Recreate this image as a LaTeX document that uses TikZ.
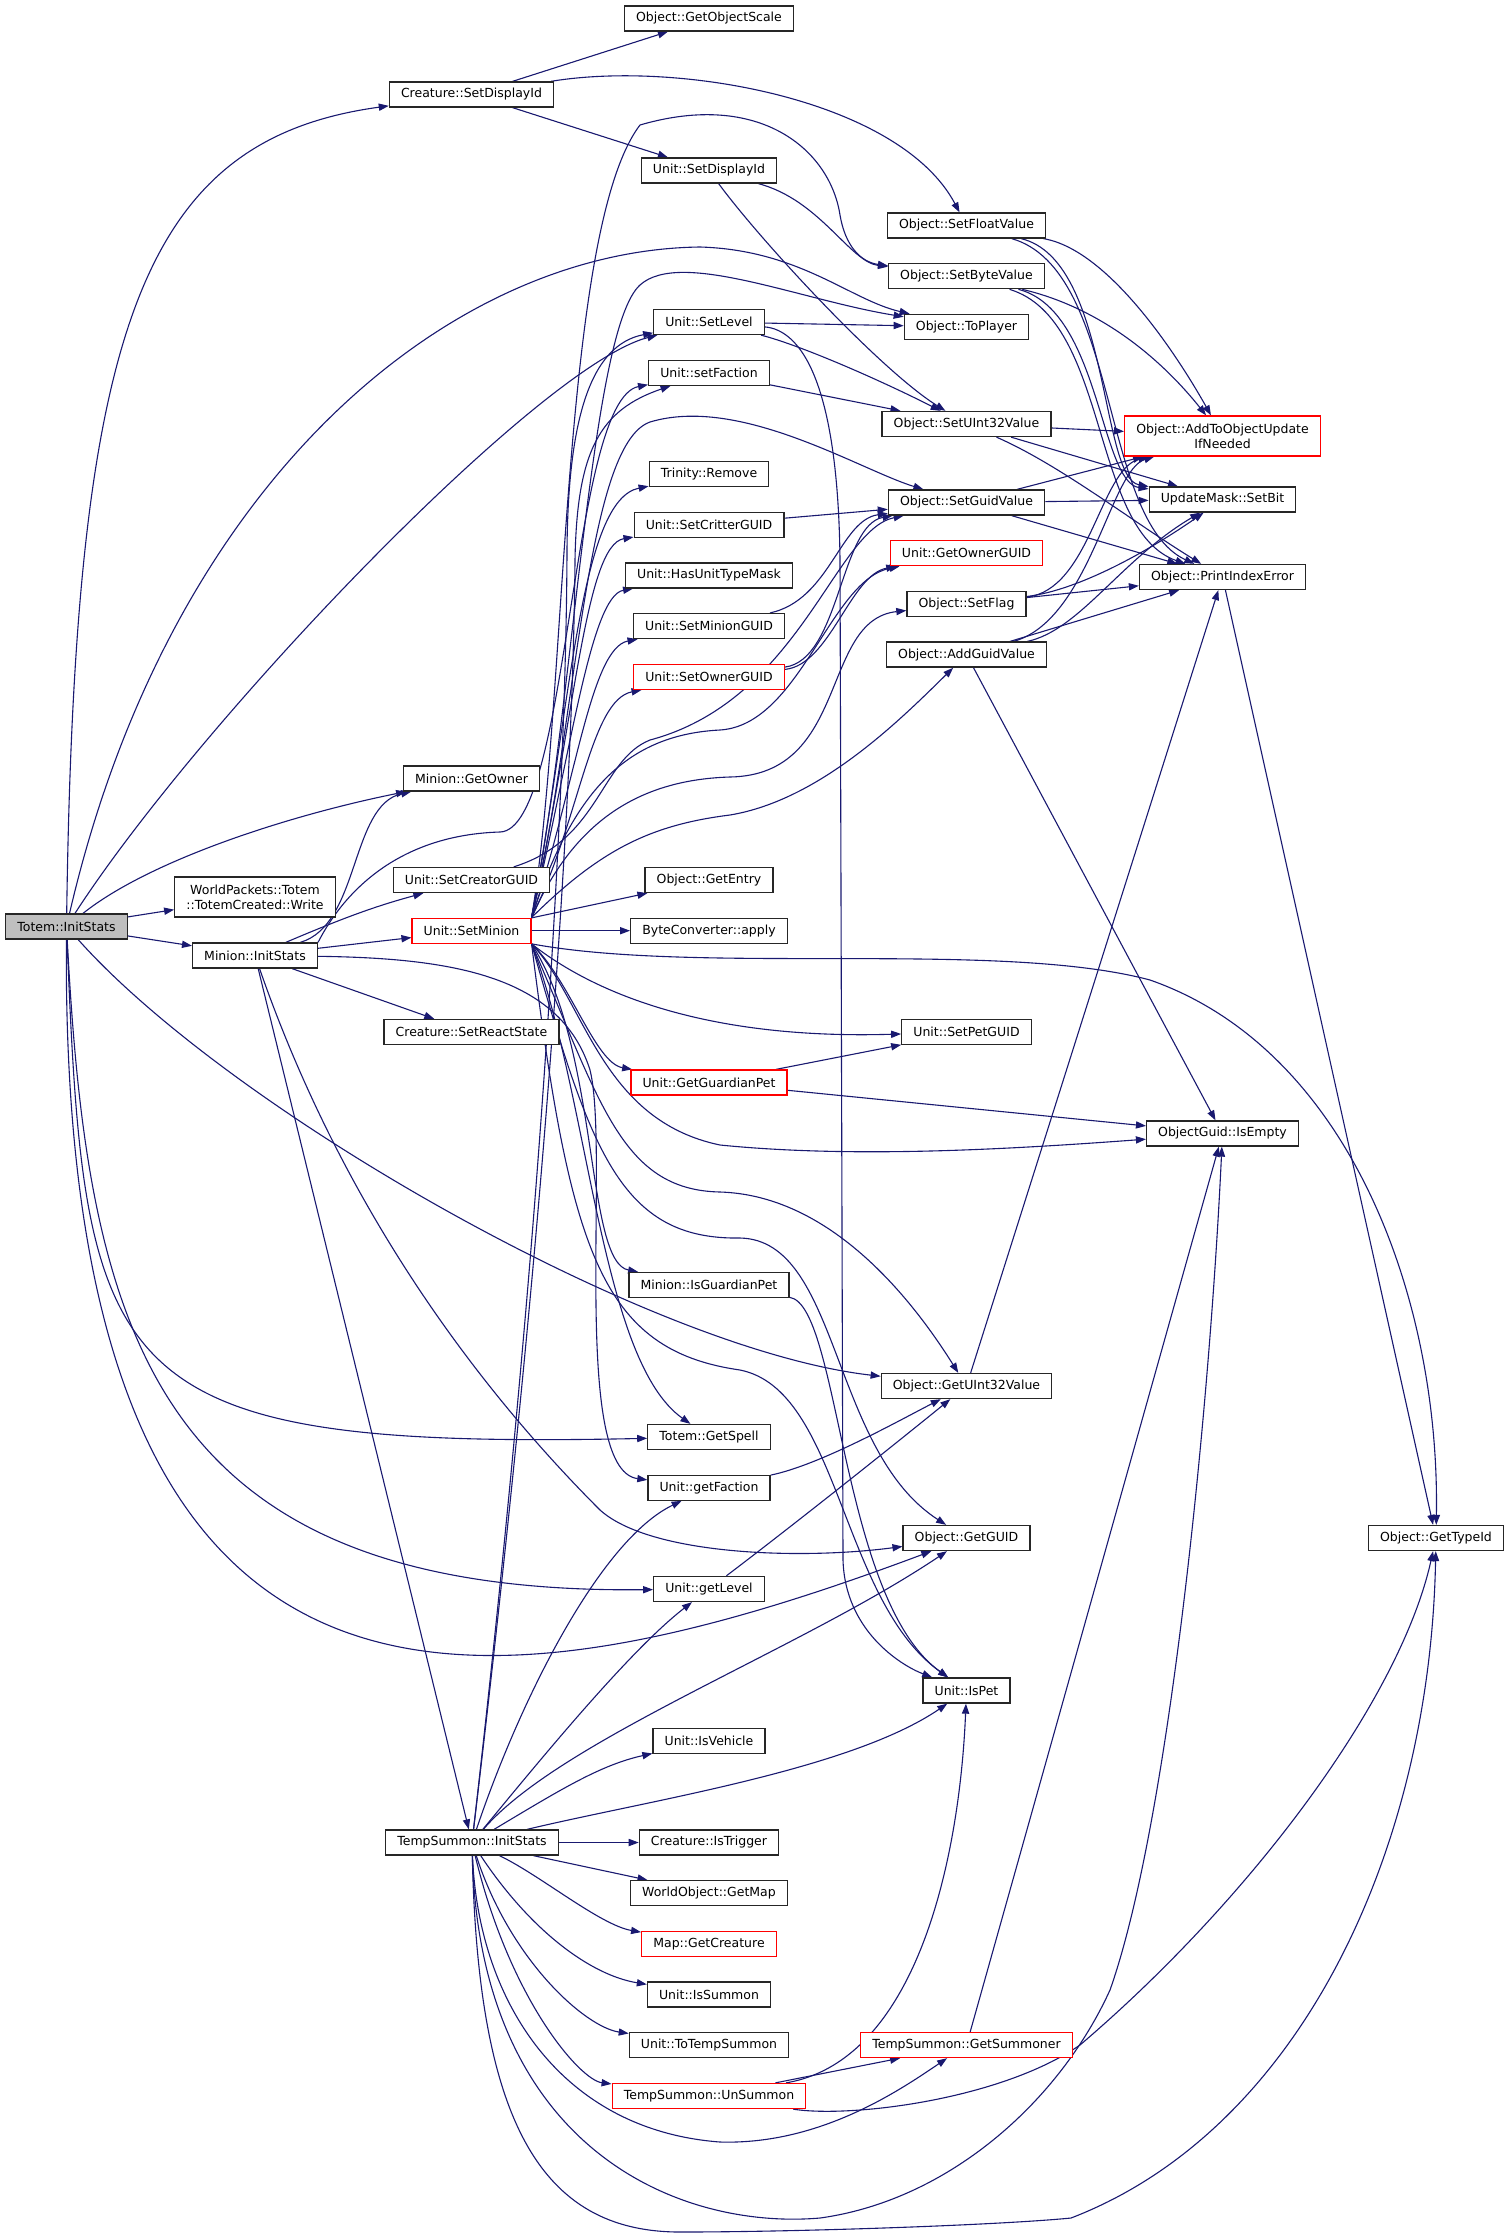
\documentclass[tikz,border=0pt]{standalone}
\usepackage{fontspec}
\setmainfont{DejaVu Sans}
\usetikzlibrary{positioning,shapes,arrows.meta}
\definecolor{edgeblue}{HTML}{191970}
\definecolor{rootgrey}{HTML}{BFBFBF}
\pgfdeclarelayer{background}
\pgfsetlayers{background,main}
\tikzstyle{func} = [rectangle, draw=black!85, line width=0.65pt, fill=white, minimum height=12.5pt, inner xsep=5.8pt, inner ysep=1.5pt, text centered, align=center, font=\fontsize{6.25}{7.5}\selectfont]
\tikzstyle{functrunc} = [func, draw=red]
\tikzstyle{funcroot} = [func, fill=rootgrey]
\tikzstyle{connect} = [draw=edgeblue, line width=0.55pt, -{Triangle[length=5pt,width=3.6pt]}]

\begin{document}
\begin{tikzpicture}[x=0.5pt, y=-0.5pt, node distance=25.35pt]
			\path [use as bounding box] (0,0) rectangle (1508,2237);

			\node (totem) [funcroot] at (66.5,926.5) {Totem::InitStats};
			\node (wpwrite) [func, minimum height=20pt] at (255,897) {WorldPackets::Totem\\::TotemCreated::Write};
			\node (mininit) [func] at (255,955.5) {Minion::InitStats};
			\node (crdisp) [func] at (471.5,94.5) {Creature::SetDisplayId};
			\node (getowner) [func] at (471.5,778.5) {Minion::GetOwner};
			\node (setcreator) [func] at (471.5,880) {Unit::SetCreatorGUID};
			\node (setminion) [functrunc, below of=setcreator] {Unit::SetMinion};
			\node (setreact) [func] at (471.5,1032) {Creature::SetReactState};
			\node (tsinit) [func] at (472,1842.5) {TempSummon::InitStats};

			\node (objscale) [func] at (709,18.5) {Object::GetObjectScale};
			\node (udisp) [func] at (709,170.5) {Unit::SetDisplayId};
			\node (setlevel) [func] at (709,322) {Unit::SetLevel};
			\node (setfaction) [func, below of=setlevel] {Unit::setFaction};
			\node (remove) [func] at (709,474) {Trinity::Remove};
			\node (setcritter) [func, below of=remove] {Unit::SetCritterGUID};
			\node (hastype) [func, below of=setcritter] {Unit::HasUnitTypeMask};
			\node (setminionguid) [func, below of=hastype] {Unit::SetMinionGUID};
			\node (setowner) [functrunc, below of=setminionguid] {Unit::SetOwnerGUID};
			\node (getentry) [func] at (709,880) {Object::GetEntry};
			\node (byteconv) [func, below of=getentry] {ByteConverter::apply};
			\node (guardpet) [functrunc] at (709,1082.5) {Unit::GetGuardianPet};
			\node (isguardpet) [func] at (709,1285) {Minion::IsGuardianPet};
			\node (getspell) [func] at (709,1437) {Totem::GetSpell};
			\node (getfaction) [func, below of=getspell] {Unit::getFaction};
			\node (getlevel) [func] at (709,1589) {Unit::getLevel};
			\node (isvehicle) [func] at (709,1741) {Unit::IsVehicle};
			\node (istrigger) [func] at (709,1842.5) {Creature::IsTrigger};
			\node (getmap) [func, below of=istrigger] {WorldObject::GetMap};
			\node (getcreature) [functrunc, below of=getmap] {Map::GetCreature};
			\node (issummon) [func, below of=getcreature] {Unit::IsSummon};
			\node (totempsummon) [func, below of=issummon] {Unit::ToTempSummon};
			\node (unsummon) [functrunc, below of=totempsummon] {TempSummon::UnSummon};

			\node (setfloat) [func] at (966.5,225.5) {Object::SetFloatValue};
			\node (setbyte) [func, below of=setfloat] {Object::SetByteValue};
			\node (toplayer) [func, below of=setbyte] {Object::ToPlayer};
			\node (setuint) [func] at (966.5,424) {Object::SetUInt32Value};
			\node (setguid) [func] at (966.5,502.5) {Object::SetGuidValue};
			\node (getownerguid) [functrunc, below of=setguid] {Unit::GetOwnerGUID};
			\node (setflag) [func, below of=getownerguid] {Object::SetFlag};
			\node (addguid) [func, below of=setflag] {Object::AddGuidValue};
			\node (setpetguid) [func] at (966.5,1032) {Unit::SetPetGUID};
			\node (getuint) [func] at (966.5,1386) {Object::GetUInt32Value};
			\node (getguid) [func] at (966.5,1538) {Object::GetGUID};
			\node (ispet) [func] at (966.5,1690.5) {Unit::IsPet};
			\node (getsummoner) [functrunc] at (966.5,2045) {TempSummon::GetSummoner};

			\node (addupdate) [functrunc, minimum height=20pt] at (1222.5,436) {Object::AddToObjectUpdate\\IfNeeded};
			\node (setbit) [func] at (1222.5,499.5) {UpdateMask::SetBit};
			\node (printerr) [func] at (1222.5,577) {Object::PrintIndexError};
			\node (isempty) [func] at (1222.5,1133.5) {ObjectGuid::IsEmpty};
			\node (gettypeid) [func] at (1436,1538) {Object::GetTypeId};

			\begin{pgfonlayer}{background}
			\fill [white] (0,0) rectangle (1508,2237);

			\draw [connect] (totem) .. controls (75,330) and (140,140) .. (crdisp);
			\draw [connect] (totem) .. controls (170,480) and (450,250) .. (700,247) .. controls (800,250) and (850,300) .. (toplayer);
			\draw [connect] (totem) .. controls (200,720) and (540,365) .. (setlevel);
			\draw [connect] (totem) .. controls (150,860) and (290,815) .. (getowner);
			\draw [connect] (totem) -- (wpwrite);
			\draw [connect] (totem) -- (mininit);
			\draw [connect] (totem) .. controls (230,1110) and (650,1350) .. (getuint);
			\draw [connect] (totem) .. controls (85,1380) and (100,1450) .. (getspell);
			\draw [connect] (totem) .. controls (88,1330) and (150,1595) .. (getlevel);
			\draw [connect] (totem) .. controls (60,1780) and (480,1720) .. (getguid);

			\draw [connect] (mininit) .. controls (360,925) and (350,805) .. (getowner);
			\draw [connect] (mininit) .. controls (350,915) and (380,905) .. (setcreator);
			\draw [connect] (mininit) -- (setminion);
			\draw [connect] (mininit) -- (setreact);
			\draw [connect] (mininit) -- (tsinit);
			\draw [connect] (mininit) .. controls (340,1200) and (470,1380) .. (600,1510) .. controls (650,1555) and (800,1560) .. (getguid);
			\draw [connect] (mininit) .. controls (450,958) and (560,975) .. (590,1070) .. controls (610,1150) and (570,1470) .. (getfaction);
			\draw [connect] (mininit.north east) .. controls (345,890) and (400,835) .. (500,832) .. controls (570,830) and (570,400) .. (setfaction);

			\draw [connect] (setminion.north east) .. controls (568,700) and (560,230) .. (640,125) .. controls (760,90) and (830,150) .. (840,215) .. controls (845,245) and (860,262) .. (setbyte);
			\draw [connect] (setminion.north east) .. controls (575,700) and (590,330) .. (640,285) .. controls (680,249) and (800,300) .. (toplayer);
			\draw [connect] (setminion.north east) .. controls (578,720) and (585,445) .. (650,422) .. controls (740,395) and (860,470) .. (setguid);
			\draw [connect] (setminion.north east) .. controls (572,700) and (580,500) .. (remove);
			\draw [connect] (setminion.north east) .. controls (575,720) and (585,545) .. (setcritter);
			\draw [connect] (setminion.north east) .. controls (570,760) and (590,596) .. (hastype);
			\draw [connect] (setminion.north east) .. controls (575,790) and (590,648) .. (setminionguid);
			\draw [connect] (setminion.north east) .. controls (580,820) and (590,700) .. (setowner);
			\draw [connect] (setminion.north east) .. controls (570,800) and (620,735) .. (720,730) .. controls (800,725) and (830,580) .. (getownerguid);
			\draw [connect] (setminion.north east) .. controls (570,830) and (630,780) .. (730,777) .. controls (850,775) and (820,620) .. (setflag);
			\draw [connect] (setminion.north east) .. controls (600,850) and (650,825) .. (730,815) .. controls (820,800) and (900,720) .. (addguid);
			\draw [connect] (setminion) -- (getentry);
			\draw [connect] (setminion) -- (byteconv);
			\draw [connect] (setminion.south east) .. controls (700,975) and (1000,940) .. (1150,980) .. controls (1350,1050) and (1440,1300) .. (gettypeid);
			\draw [connect] (setminion.south east) .. controls (590,990) and (700,1040) .. (setpetguid);
			\draw [connect] (setminion.south east) .. controls (585,1000) and (600,1120) .. (720,1145) .. controls (850,1158) and (1000,1150) .. (isempty);
			\draw [connect] (setminion.south east) .. controls (570,980) and (595,1063) .. (guardpet);
			\draw [connect] (setminion.south east) .. controls (600,1050) and (585,1262) .. (isguardpet);
			\draw [connect] (setminion.south east) .. controls (590,1100) and (600,1360) .. (getspell);
			\draw [connect] (setminion.south east) .. controls (600,1100) and (620,1190) .. (720,1192) .. controls (820,1195) and (900,1280) .. (getuint);
			\draw [connect] (setminion.south east) .. controls (590,1150) and (620,1240) .. (740,1238) .. controls (840,1240) and (830,1450) .. (getguid);
			\draw [connect] (setminion.south east) .. controls (570,1250) and (600,1350) .. (740,1370) .. controls (840,1390) and (840,1600) .. (ispet);

			\draw [connect] (tsinit) .. controls (540,1250) and (566,800) .. (567,550) .. controls (568,420) and (590,345) .. (setlevel);
			\draw [connect] (tsinit) .. controls (545,1230) and (573,800) .. (575,560) .. controls (577,450) and (600,410) .. (setfaction);
			\draw [connect] (tsinit) .. controls (520,1700) and (600,1540) .. (getfaction);
			\draw [connect] (tsinit) .. controls (540,1760) and (630,1650) .. (getlevel);
			\draw [connect] (tsinit) .. controls (560,1740) and (800,1650) .. (getguid);
			\draw [connect] (tsinit) .. controls (650,1800) and (850,1770) .. (ispet);
			\draw [connect] (tsinit) .. controls (560,1790) and (600,1765) .. (isvehicle);
			\draw [connect] (tsinit) -- (istrigger);
			\draw [connect] (tsinit) -- (getmap);
			\draw [connect] (tsinit) .. controls (540,1875) and (600,1925) .. (getcreature);
			\draw [connect] (tsinit) .. controls (530,1930) and (590,1975) .. (issummon);
			\draw [connect] (tsinit) .. controls (510,1960) and (585,2027) .. (totempsummon);
			\draw [connect] (tsinit) .. controls (510,2000) and (580,2080) .. (unsummon);
			\draw [connect] (tsinit) .. controls (478,2000) and (560,2130) .. (720,2142) .. controls (820,2145) and (900,2090) .. (getsummoner);
			\draw [connect] (tsinit) .. controls (480,2150) and (680,2230) .. (820,2218) .. controls (950,2200) and (1060,2100) .. (1110,1990) .. controls (1170,1820) and (1210,1400) .. (isempty);
			\draw [connect] (tsinit) .. controls (478,2120) and (540,2232) .. (680,2232) .. controls (800,2232) and (1000,2225) .. (1071,2218) .. controls (1300,2130) and (1430,1850) .. (gettypeid);

			\draw [connect] (unsummon) -- (getsummoner);
			\draw [connect] (unsummon) .. controls (920,2060) and (960,1850) .. (ispet);
			\draw [connect] (unsummon) .. controls (850,2118) and (1000,2100) .. (1080,2045) .. controls (1250,1900) and (1400,1700) .. (gettypeid);
			\draw [connect] (getsummoner) -- (isempty);

			\draw [connect] (crdisp) -- (objscale);
			\draw [connect] (crdisp) -- (udisp);
			\draw [connect] (crdisp) .. controls (680,60) and (900,100) .. (setfloat);
			\draw [connect] (udisp) .. controls (820,200) and (850,262) .. (setbyte);
			\draw [connect] (udisp) .. controls (760,240) and (880,370) .. (setuint);
			\draw [connect] (setlevel) -- (toplayer);
			\draw [connect] (setlevel) .. controls (800,345) and (880,380) .. (setuint);
			\draw [connect] (setlevel) .. controls (800,330) and (838,380) .. (840,560) -- (843,1560) .. controls (845,1630) and (900,1665) .. (ispet);
			\draw [connect] (setfaction) -- (setuint);
			\draw [connect] (setcritter) -- (setguid);
			\draw [connect] (setminionguid) .. controls (830,600) and (840,520) .. (setguid);
			\draw [connect] (setowner) .. controls (840,660) and (840,525) .. (setguid);
			\draw [connect] (setowner) .. controls (830,665) and (850,575) .. (getownerguid);
			\draw [connect] (setcreator) .. controls (600,840) and (600,760) .. (650,740) .. controls (800,700) and (835,530) .. (setguid);
			\draw [connect] (guardpet) -- (setpetguid);
			\draw [connect] (guardpet) -- (isempty);
			\draw [connect] (isguardpet) .. controls (840,1305) and (840,1600) .. (ispet);
			\draw [connect] (getfaction) .. controls (820,1465) and (900,1420) .. (getuint);
			\draw [connect] (getlevel) .. controls (800,1520) and (900,1440) .. (getuint);
			\draw [connect] (getuint) -- (printerr);
			\draw [connect] (addguid) -- (isempty);
			\draw [connect] (printerr) -- (gettypeid);

			\draw [connect] (setfloat) .. controls (1110,250) and (1180,360) .. (addupdate);
			\draw [connect] (setfloat) .. controls (1110,260) and (1100,478) .. (setbit);
			\draw [connect] (setfloat) .. controls (1120,270) and (1100,520) .. (printerr);
			\draw [connect] (setbyte) .. controls (1110,310) and (1170,370) .. (addupdate);
			\draw [connect] (setbyte) .. controls (1100,310) and (1100,482) .. (setbit);
			\draw [connect] (setbyte) .. controls (1110,320) and (1090,530) .. (printerr);
			\draw [connect] (setuint) -- (addupdate);
			\draw [connect] (setuint) -- (setbit);
			\draw [connect] (setuint) .. controls (1060,465) and (1130,520) .. (printerr);
			\draw [connect] (setguid) -- (addupdate);
			\draw [connect] (setguid) -- (setbit);
			\draw [connect] (setguid) -- (printerr);
			\draw [connect] (setflag) .. controls (1090,590) and (1100,470) .. (addupdate);
			\draw [connect] (setflag) .. controls (1080,590) and (1150,550) .. (setbit);
			\draw [connect] (setflag) -- (printerr);
			\draw [connect] (addguid) .. controls (1090,620) and (1110,470) .. (addupdate);
			\draw [connect] (addguid) .. controls (1080,630) and (1120,560) .. (setbit);
			\draw [connect] (addguid) -- (printerr);
			\end{pgfonlayer}

			\end{tikzpicture}
\end{document}
